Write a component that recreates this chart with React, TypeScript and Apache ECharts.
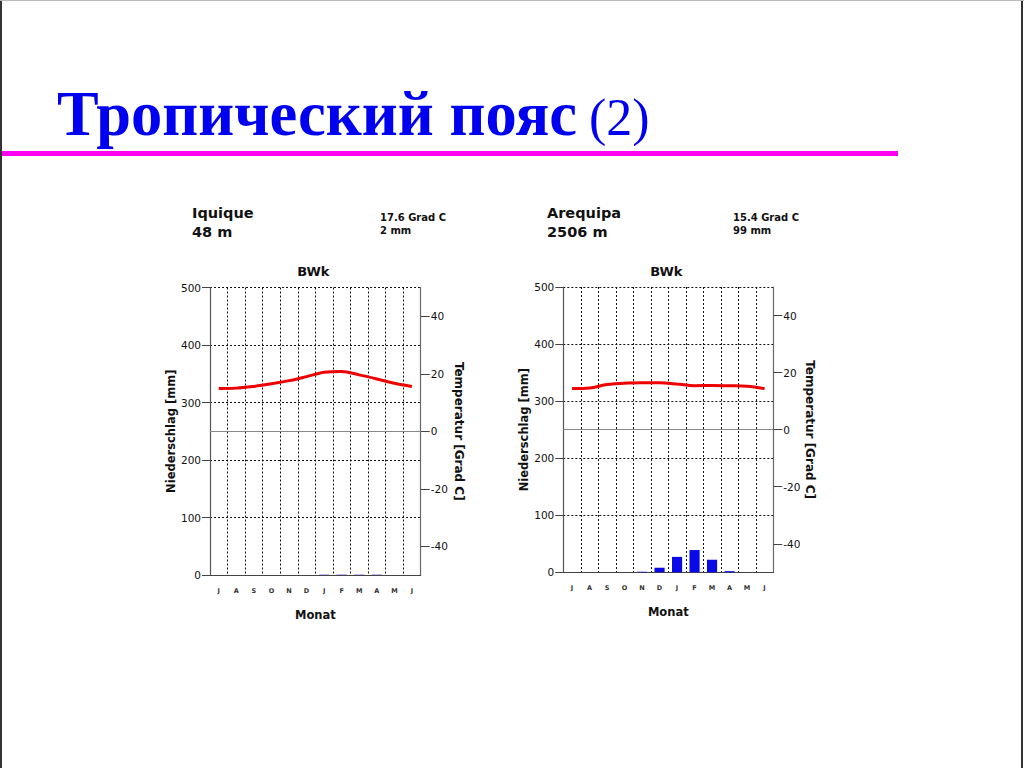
import React, { useEffect, useRef } from "react";
import * as echarts from "echarts";

// ---- data ----
const months = ["J", "A", "S", "O", "N", "D", "J", "F", "M", "A", "M", "J"];
const iquiqueTemp = [14.9, 15.0, 15.6, 16.5, 17.6, 19.0, 20.5, 20.8, 19.6, 18.2, 16.7, 15.6];
const iquiquePrecip = [0, 0, 0, 0, 0, 0, 0.5, 0.5, 0.5, 0.5, 0, 0];
const arequipaTemp = [14.4, 14.6, 15.8, 16.3, 16.4, 16.4, 16.0, 15.4, 15.5, 15.4, 15.2, 14.4];
const arequipaPrecip = [0, 0, 0, 0, 1, 8, 27, 39, 22, 2, 0, 0];
const mmTicks = [0, 100, 200, 300, 400, 500];
const tempTicks = [-40, -20, 0, 20, 40];
const stationNames = ["Iquique", "Arequipa"];
const stationHeights = ["48 m", "2506 m"];
const stationMeanTemp = ["17.6 Grad C", "15.4 Grad C"];
const stationPrecipSum = ["2 mm", "99 mm"];
const climateClass = ["BWk", "BWk"];
const titleMain = "Тропический пояс";
const titleSuffix = "(2)";

const FONT = "DejaVu Sans";

const grids = [
  { left: 210, top: 287.5, width: 210.7, height: 287.5, nameGapL: 32, nameGapR: 32 },
  { left: 563.3, top: 287, width: 210, height: 285.3, nameGapL: 32, nameGapR: 29.5 },
];

export default function App() {
  const ref = useRef<HTMLDivElement>(null);
  useEffect(() => {
    if (!ref.current) return;
    const chart = echarts.init(ref.current, null, { renderer: "svg" });
    const temps = [iquiqueTemp, arequipaTemp];
    const precs = [iquiquePrecip, arequipaPrecip];

    const gridOpt: any[] = [];
    const xAxes: any[] = [];
    const yAxes: any[] = [];
    const series: any[] = [];
    const graphic: any[] = [];

    grids.forEach((g, i) => {
      gridOpt.push({ left: g.left, top: g.top, width: g.width, height: g.height, containLabel: false });
      xAxes.push({
        type: "category",
        gridIndex: i,
        data: months,
        boundaryGap: true,
        name: "Monat",
        nameLocation: "middle",
        nameGap: 34,
        nameTextStyle: { fontFamily: FONT, fontWeight: "bold", fontSize: 11.5, color: "#111" },
        axisLine: { show: true, onZero: false, lineStyle: { color: "#444", width: 1.2 } },
        axisTick: { show: false },
        axisLabel: { fontFamily: FONT, fontWeight: "bold", fontSize: 6.5, color: "#333", margin: 12, interval: 0 },
        splitLine: { show: true, lineStyle: { color: "#111", type: [2, 2], width: 1 } },
      });
      yAxes.push({
        type: "value",
        gridIndex: i,
        position: "left",
        min: 0,
        max: 500,
        interval: 50,
        name: "Niederschlag [mm]",
        nameLocation: "middle",
        nameRotate: 90,
        nameGap: g.nameGapL,
        nameTextStyle: { fontFamily: FONT, fontWeight: "bold", fontSize: 11.5, color: "#111" },
        axisLine: { show: true, onZero: false, lineStyle: { color: "#555", width: 1.2 } },
        axisTick: { show: true, length: 8, customValues: mmTicks, lineStyle: { color: "#444" } },
        axisLabel: {
          fontFamily: FONT,
          fontSize: 10.5,
          color: "#111",
          margin: 9,
          customValues: mmTicks,
          formatter: (v: number) => (v % 100 === 0 ? String(v) : ""),
        },
        splitLine: { show: true, lineStyle: { color: "#111", type: [2, 2], width: 1 } },
      });
      yAxes.push({
        type: "value",
        gridIndex: i,
        position: "right",
        min: -50,
        max: 50,
        name: "Temperatur [Grad C]",
        nameLocation: "middle",
        nameRotate: -90,
        nameGap: g.nameGapR,
        nameTextStyle: { fontFamily: FONT, fontWeight: "bold", fontSize: 12, color: "#111" },
        axisLine: { show: true, onZero: false, lineStyle: { color: "#666", width: 1.2 } },
        axisTick: { show: true, length: 9, customValues: tempTicks, lineStyle: { color: "#444" } },
        axisLabel: { fontFamily: FONT, fontSize: 10.5, color: "#111", margin: 10, customValues: tempTicks },
        splitLine: { show: false },
      });
      series.push({
        type: "bar",
        xAxisIndex: i,
        yAxisIndex: i * 2,
        data: precs[i],
        barWidth: "58%",
        itemStyle: { color: "#0a0ae6" },
      });
      series.push({
        type: "line",
        xAxisIndex: i,
        yAxisIndex: i * 2 + 1,
        data: temps[i],
        smooth: 0.35,
        symbol: "none",
        lineStyle: { color: "#ee0000", width: 3 },
        markLine: {
          silent: true,
          symbol: "none",
          label: { show: false },
          lineStyle: { color: "#888", type: "solid", width: 1.2 },
          data: [{ yAxis: 0 }],
        },
      });
    });

    // header texts per station
    const headerX = [192, 547];
    const infoX = [380, 733];
    grids.forEach((g, i) => {
      graphic.push({
        type: "text",
        x: headerX[i],
        y: 213,
        style: { text: stationNames[i], fontFamily: FONT, fontWeight: "bold", fontSize: 14.5, fill: "#111", verticalAlign: "middle" },
      });
      graphic.push({
        type: "text",
        x: headerX[i],
        y: 232,
        style: { text: stationHeights[i], fontFamily: FONT, fontWeight: "bold", fontSize: 14.5, fill: "#111", verticalAlign: "middle" },
      });
      graphic.push({
        type: "text",
        x: infoX[i],
        y: 217.5,
        style: { text: stationMeanTemp[i], fontFamily: FONT, fontWeight: "bold", fontSize: 10, fill: "#111", verticalAlign: "middle" },
      });
      graphic.push({
        type: "text",
        x: infoX[i],
        y: 230.5,
        style: { text: stationPrecipSum[i], fontFamily: FONT, fontWeight: "bold", fontSize: 10, fill: "#111", verticalAlign: "middle" },
      });
      graphic.push({
        type: "text",
        x: g.left + g.width / 2 - 2,
        y: 271,
        style: { text: climateClass[i], fontFamily: FONT, fontWeight: "bold", fontSize: 13, fill: "#111", align: "center", verticalAlign: "middle" },
      });
    });

    // slide title, rule, frame
    graphic.push({
      type: "text",
      x: 57,
      y: 114,
      style: { text: titleMain, fontFamily: "Liberation Serif", fontWeight: "bold", fontSize: 62.5, fill: "#0000f0", verticalAlign: "middle" },
    });
    graphic.push({
      type: "text",
      x: 589,
      y: 117.5,
      style: { text: titleSuffix, fontFamily: "Liberation Serif", fontWeight: "normal", fontSize: 52, fill: "#0000f0", verticalAlign: "middle" },
    });
    graphic.push({ type: "rect", shape: { x: 0, y: 151, width: 898, height: 5 }, style: { fill: "#ff00f0" } });
    graphic.push({ type: "rect", shape: { x: 0, y: 0, width: 2, height: 768 }, style: { fill: "#333" } });
    graphic.push({ type: "rect", shape: { x: 1021, y: 0, width: 2, height: 768 }, style: { fill: "#333" } });
    graphic.push({ type: "rect", shape: { x: 0, y: 0, width: 1024, height: 1 }, style: { fill: "#bbb" } });

    chart.setOption({
      animation: false,
      backgroundColor: "#ffffff",
      grid: gridOpt,
      xAxis: xAxes,
      yAxis: yAxes,
      series,
      graphic,
    });
    return () => chart.dispose();
  }, []);
  return (
    <div
      ref={ref}
      style={{ position: "absolute", left: 0, top: 0, width: 1024, height: 768, background: "#fff" }}
    />
  );
}
